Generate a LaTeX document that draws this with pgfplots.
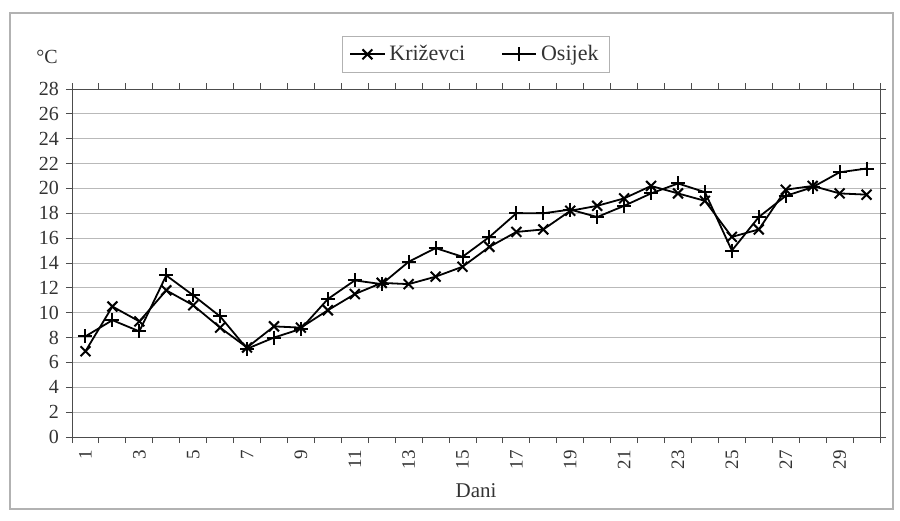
\documentclass[border=0pt]{standalone}
\usepackage{pgfplots}
\pgfplotsset{compat=1.18}
\usepackage{fontspec}
\setmainfont{Liberation Serif}
\begin{document}
\begin{tikzpicture}
\begin{axis}[
 name=main,
 scale only axis, width=404pt, height=174pt,
 xmin=0.5, xmax=30.5, ymin=0, ymax=28,
 xtick={0.5,1.5,...,30.5},
 xticklabels={1,,3,,5,,7,,9,,11,,13,,15,,17,,19,,21,,23,,25,,27,,29,},
 x tick label as interval,
 ytick={0,2,...,28},
 tick align=outside,
 major tick length=3pt,
 tick style={gray!60!black, line width=0.5pt},
 ymajorgrids, grid style={gray!55, line width=0.5pt},
 axis line style={gray!60!black, line width=0.5pt},
 /pgf/number format/assume math mode=true,
 x tick label style={rotate=90, anchor=east, font=\fontsize{9.5}{9.5}\selectfont, text=black!80},
 y tick label style={font=\fontsize{10}{10}\selectfont, text=black!80},
 xlabel={Dani},
 xlabel style={at={(axis description cs:0.5,0)}, anchor=center, yshift=-27pt, font=\fontsize{10.5}{10.5}\selectfont, text=black!80},
 legend style={at={(0.5,1)}, anchor=south, yshift=8pt, legend columns=2, draw=gray!60, line width=0.5pt,
   font=\fontsize{11}{13}\selectfont, text=black!80, inner xsep=3.5pt, inner ysep=2.5pt,
   /tikz/every even column/.append style={column sep=16pt}},
 legend cell align=left,
]
\addplot[black, line width=0.9pt, mark=x, mark size=3.5pt, mark options={line width=1pt}] coordinates {
(1,6.9) (2,10.5) (3,9.3) (4,11.8) (5,10.6) (6,8.8) (7,7.2) (8,8.9) (9,8.8) (10,10.2)
(11,11.5) (12,12.4) (13,12.3) (14,12.9) (15,13.7) (16,15.3) (17,16.5) (18,16.7) (19,18.2) (20,18.6)
(21,19.2) (22,20.2) (23,19.6) (24,19.0) (25,16.1) (26,16.7) (27,19.9) (28,20.2) (29,19.6) (30,19.5)};
\addlegendentry{Križevci}
\addplot[black, line width=0.9pt, mark=+, mark size=3.5pt, mark options={line width=1pt}] coordinates {
(1,8.1) (2,9.4) (3,8.5) (4,13.0) (5,11.4) (6,9.7) (7,7.1) (8,8.0) (9,8.7) (10,11.1)
(11,12.6) (12,12.3) (13,14.1) (14,15.2) (15,14.5) (16,16.1) (17,18.0) (18,18.0) (19,18.3) (20,17.7)
(21,18.6) (22,19.6) (23,20.4) (24,19.7) (25,15.0) (26,17.7) (27,19.4) (28,20.1) (29,21.3) (30,21.6)};
\addlegendentry{Osijek}
\end{axis}
\coordinate (O) at (main.south west);
\pgfresetboundingbox
\path[use as bounding box] ([shift={(-36pt,-41.5pt)}]O) rectangle ([shift={(414pt,218.5pt)}]O);
\draw[gray!60, line width=0.6pt] ([shift={(-31pt,-36pt)}]O) rectangle ([shift={(410.5pt,212pt)}]O);
\node[font=\fontsize{10}{10}\selectfont, text=black!80] at ([shift={(-12.5pt,190pt)}]O) {°C};
\end{tikzpicture}
\end{document}
